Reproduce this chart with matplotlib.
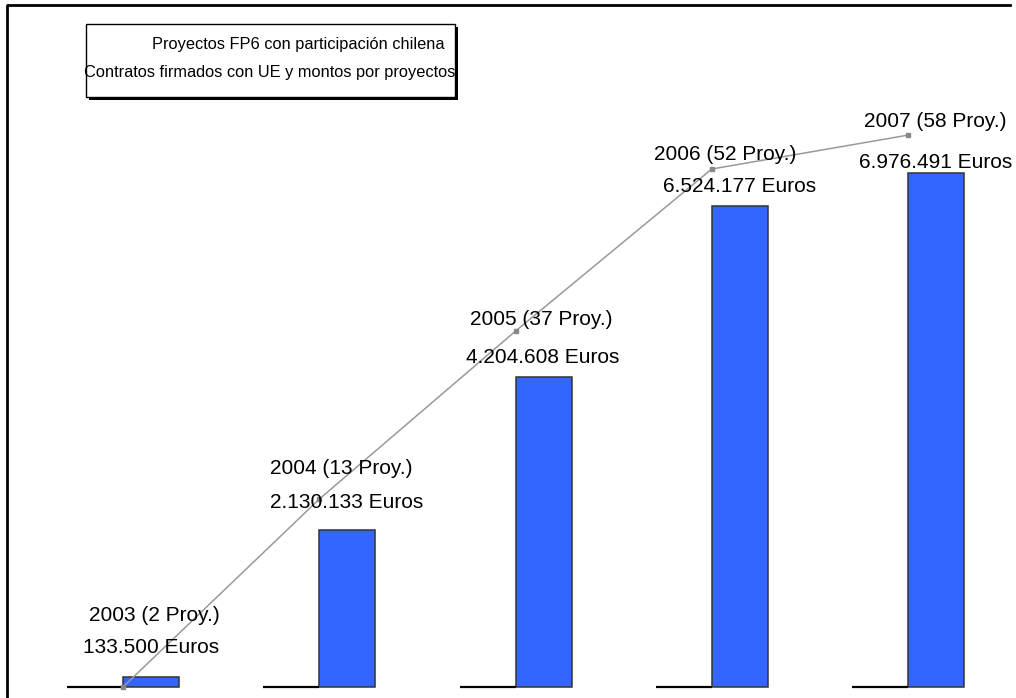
import matplotlib
matplotlib.use("Agg")
import matplotlib.pyplot as plt
from matplotlib.patches import Rectangle
from matplotlib.lines import Line2D

# Datos del grafico
anios = [2003, 2004, 2005, 2006, 2007]
proyectos = [2, 13, 37, 52, 58]
montos = [133500, 2130133, 4204608, 6524177, 6976491]
# linea de tendencia (en euros)
tendencia = [0, 2550000, 4830000, 7030000, 7490000]

titulo = ["Proyectos FP6 con participación chilena",
          "Contratos firmados con UE y montos por proyectos"]

W, H = 1016, 698
plt.rcParams['font.family'] = ['Liberation Sans', 'DejaVu Sans']

fig = plt.figure(figsize=(W / 100, H / 100), dpi=100)

# ejes a pantalla completa, escala ajustada a la imagen
ax = fig.add_axes([0, 0, 1, 1])
paso = 196.25        # px por categoria
px_eur = 73.68e-6    # px por euro
x0, y0 = 123, 687    # pixel del origen
ax.set_xlim(-x0 / paso, (W - x0) / paso)
ax.set_ylim(-(H - y0) / px_eur, y0 / px_eur)
ax.axis('off')

ancho = 56 / paso
x = list(range(len(anios)))

ax.bar(x, montos, width=ancho, align='edge', color='#3366FF',
       edgecolor='#333333', linewidth=1.1, zorder=2)
ax.hlines([0] * len(x), [i - ancho for i in x], x, color='black',
          linewidth=1.6, zorder=2)

ax.plot(x, tendencia, color='#999999', linewidth=1.1, marker='s',
        markersize=2.5, markerfacecolor='#888888', markeredgecolor='#888888',
        zorder=3)

# etiquetas (desplazamiento en pixeles sobre la barra)
off1 = [(3, 62), (-6, 62), (-2, 58), (-15, 52), (-1, 51)]
off2 = [(0, 30), (-1, 28), (-1, 20), (0, 20), (0, 10)]
for i, (a, p, m) in enumerate(zip(anios, proyectos, montos)):
    xc = i + ancho / 2
    ax.annotate(f"{a} ({p} Proy.)", (xc, m), xytext=off1[i],
                textcoords='offset pixels', ha='center', va='center',
                fontsize=15, zorder=4)
    ax.annotate(f"{m:,} Euros".replace(",", "."), (xc, m), xytext=off2[i],
                textcoords='offset pixels', ha='center', va='center',
                fontsize=15, zorder=4)


def fx(px):
    return px / W


def fy(py):
    return 1 - py / H


# marco superior e izquierdo
fig.add_artist(Line2D([fx(7), fx(7), fx(1010)], [fy(H), fy(5), fy(5)],
                      color='black', linewidth=2))

# caja del titulo con sombra
fig.add_artist(Rectangle((fx(89), fy(100)), fx(455 - 86), (97 - 24) / H,
                         facecolor='black', edgecolor='black', linewidth=0))
fig.add_artist(Rectangle((fx(86), fy(97)), fx(455 - 86), (97 - 24) / H,
                         facecolor='white', edgecolor='black', linewidth=1))
fig.text(fx(298), fy(45), titulo[0], ha='center', va='center', fontsize=11.8)
fig.text(fx(270), fy(72), titulo[1], ha='center', va='center', fontsize=11.8)

fig.savefig("out.png", dpi=100)
